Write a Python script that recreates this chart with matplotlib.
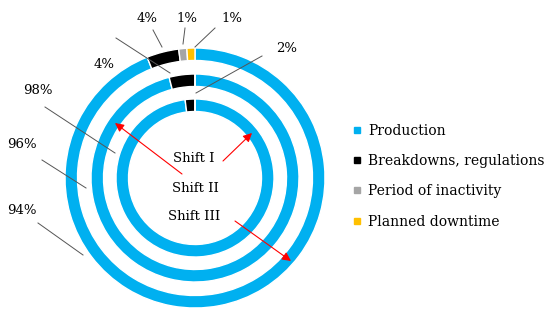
import matplotlib.pyplot as plt
from matplotlib.lines import Line2D

# shares of working time per shift (%)
categories = ["Production", "Breakdowns, regulations", "Period of inactivity", "Planned downtime"]
colors = ["#00B0F0", "#000000", "#A5A5A5", "#FFC000"]
shift1 = [98, 2, 0, 0]
shift2 = [96, 4, 0, 0]
shift3 = [94, 4, 1, 1]
shift_names = ["Shift I", "Shift II", "Shift III"]

plt.rcParams['font.family'] = ['DejaVu Serif']

W, H = 550, 325
fig = plt.figure(figsize=(5.5, 3.25), dpi=100)
ax = fig.add_axes([0, 0, 1, 1])


def px(x, y):
    # picture pixel -> data coords (y up)
    return (x, H - y)


cx, cy = px(195, 178)
rings = [(shift3, 130), (shift2, 104), (shift1, 79)]
for vals, r in rings:
    ax.pie(vals, radius=r, center=(cx, cy), colors=colors, startangle=90,
           counterclock=False,
           wedgeprops=dict(width=12.5, edgecolor="white", linewidth=1))

ax.set_xlim(0, W)
ax.set_ylim(0, H)
ax.set_aspect("equal")
ax.axis("off")

# value labels with leader lines
lc = "#555555"
labels = [
    ("94%", (22, 211), (38, 223), (83, 255)),
    ("96%", (22, 144), (42, 160), (86, 188)),
    ("98%", (38, 91), (45, 107), (115, 153)),
    ("4%", (104, 64), (116, 38), (170, 73)),
    ("4%", (147, 18), (153, 30), (162, 47)),
    ("1%", (187, 18), (185, 28), (183, 44)),
    ("1%", (232, 18), (215, 28), (195, 47)),
    ("2%", (287, 48), (262, 56), (196, 93)),
]
for txt, tpos, p0, p1 in labels:
    ax.text(*px(*tpos), txt, ha="center", va="center", fontsize=9.5)
    ax.plot([p0[0], p1[0]], [H - p0[1], H - p1[1]], color=lc, lw=0.7)

# shift names with red arrows
name_pos = [(194, 159), (195, 189), (194, 217)]
arrows = [((223, 161), (252, 133)), ((182, 174), (115, 123)), ((235, 221), (291, 261))]
for name, pos, (a0, a1) in zip(shift_names, name_pos, arrows):
    ax.text(*px(*pos), name, ha="center", va="center", fontsize=9.5)
    ax.annotate("", xy=px(*a1), xytext=px(*a0),
                arrowprops=dict(arrowstyle="-|>", color="red", lw=0.8,
                                mutation_scale=13, shrinkA=0, shrinkB=0))

handles = [Line2D([], [], marker="s", color=c, linestyle="none", markersize=5)
           for c in colors]
ax.legend(handles, categories, loc="upper left", bbox_to_anchor=(347 / W, 1 - 118 / H),
          frameon=False, fontsize=10, handlelength=0.6, handletextpad=0.5,
          labelspacing=1.18, borderaxespad=0)

fig.savefig("out.png", dpi=100)
